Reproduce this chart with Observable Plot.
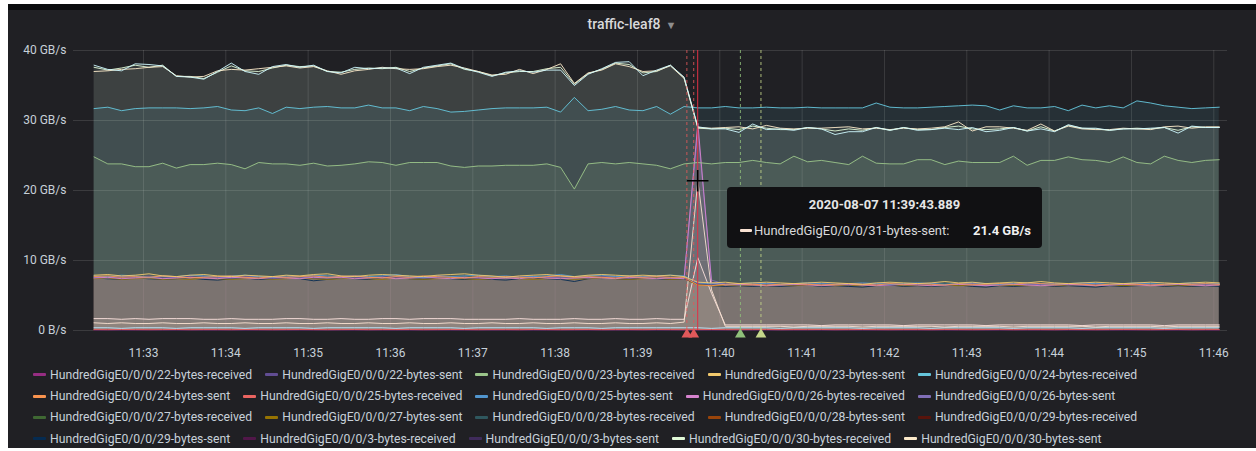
<!DOCTYPE html>
<html><head><meta charset="utf-8">
<script src="https://cdn.jsdelivr.net/npm/d3@7"></script>
<script src="https://cdn.jsdelivr.net/npm/@observablehq/plot@0.6"></script>
<style>
html,body{margin:0;padding:0;background:#fff;}
#wrap{position:relative;width:1256px;height:451px;overflow:hidden;font-family:Roboto,"Helvetica Neue",Arial,sans-serif;}
#panel{position:absolute;left:8px;top:4px;width:1248px;height:444px;background:#202024;border-top:6px solid #0b0c0e;box-sizing:border-box;}
#title{position:absolute;left:8px;width:1248px;top:16px;text-align:center;color:#d8d9da;font-size:14px;font-weight:500;}
#title .caret{color:#8e8e8e;font-size:11px;margin-left:5px;}
#chart{position:absolute;left:0;top:0;}
#legend{position:absolute;left:33px;top:364px;}
.row{display:flex;height:21.4px;align-items:center;white-space:nowrap;}
.item{display:flex;align-items:center;margin-right:13px;font-size:12.2px;color:#c7d0d9;}
.sw{width:13px;height:3px;border-radius:1px;margin-right:4px;}
#tip{position:absolute;left:727px;top:187px;width:315px;height:61px;background:#111113;border-radius:4px;color:#d8d9da;}
#tip .tt{position:absolute;left:0;width:315px;top:10px;text-align:center;font-size:13px;font-weight:700;color:#e6e6e6;}
#tip .tr{position:absolute;left:13px;right:11px;top:34px;height:18px;display:flex;align-items:center;font-size:13px;}
#tip .sw2{width:12px;height:3px;border-radius:1px;margin-right:2px;}
#tip .tv{margin-left:auto;font-weight:700;color:#f0f0f0;}
</style></head>
<body>
<div id="wrap">
  <div id="panel"></div>
  <div id="title"></div>
  <div id="chart"></div>
  <div id="legend"></div>
  <div id="tip"></div>
</div>
<script>
// ---------- axis data ----------
const xTickLabels = ["11:33","11:34","11:35","11:36","11:37","11:38","11:39","11:40","11:41","11:42","11:43","11:44","11:45","11:46"];
const yTicks = [0, 10, 20, 30, 40];
const yTickLabels = ["0 B/s", "10 GB/s", "20 GB/s", "30 GB/s", "40 GB/s"];
const sampleStart = "11:32:24";   // first sample, 10 s interval
const sampleCount = 83;
const viewStart = "11:32:09", viewEnd = "11:46:10";
const dateStr = "2020-08-07";

// ---------- series values (GB/s) ----------
const z22recv = [0.05,0.06,0.05,0.05,0.06,0.05,0.06,0.05,0.05,0.06,0.05,0.05,0.06,0.05,0.06,0.05,0.05,0.06,0.05,0.05,0.06,0.05,0.05,0.06,0.05,0.06,0.05,0.05,0.06,0.05,0.05,0.06,0.05,0.06,0.05,0.05,0.06,0.05,0.05,0.06,0.05,0.06,0.05,0.05,0.06,0.05,0.05,0.06,0.05,0.06,0.05,0.05,0.06,0.05,0.06,0.05,0.05,0.06,0.05,0.05,0.06,0.05,0.06,0.05,0.05,0.06,0.05,0.05,0.06,0.05,0.05,0.06,0.05,0.06,0.05,0.05,0.06,0.05,0.06,0.05,0.05,0.06,0.05];
const c22sent = [7.6,7.7,7.5,7.6,7.8,7.5,7.6,7.7,7.5,7.6,7.5,7.7,7.6,7.4,7.6,7.7,7.5,7.6,7.8,7.6,7.5,7.7,7.6,7.5,7.6,7.8,7.7,7.5,7.6,7.4,7.6,7.7,7.5,7.6,7.7,7.6,7.5,7.7,7.6,7.5,7.6,7.7,7.5,7.4,6.7,6.6,6.7,6.5,6.6,6.7,6.6,6.5,6.6,6.7,6.6,6.5,6.7,6.6,6.5,6.6,6.7,6.6,6.5,6.6,6.7,6.6,6.5,6.6,6.7,6.6,6.5,6.6,6.7,6.6,6.5,6.6,6.7,6.6,6.5,6.6,6.7,6.6,6.6];
const g23recv = [24.8,23.8,23.8,23.4,23.4,23.9,23.2,23.7,23.7,23.9,23.7,23.1,24.0,23.8,23.8,23.6,23.9,23.5,23.6,23.8,24.1,24.0,23.6,24.0,24.0,24.0,23.5,23.3,23.5,23.5,23.6,23.6,23.6,23.8,23.3,20.2,23.8,24.0,23.8,24.0,23.8,23.6,23.1,23.8,24.0,23.8,24.0,24.0,24.3,24.0,23.8,24.9,24.1,24.3,24.0,23.7,24.9,23.9,23.8,23.8,24.4,24.4,23.7,24.2,24.0,24.0,24.0,24.9,23.6,24.3,24.3,24.8,24.4,24.3,24.0,24.8,24.0,23.8,24.9,24.3,24.0,24.3,24.4];
const c23sent = [7.9,8.0,7.8,7.9,8.1,7.8,7.7,7.9,8.0,7.8,7.7,7.9,7.8,7.7,7.9,7.8,8.0,8.1,7.8,7.7,7.9,8.0,7.9,7.8,7.7,7.9,8.0,8.1,7.9,7.8,7.6,7.8,7.9,8.0,7.8,7.7,7.9,8.0,7.9,7.8,7.9,7.8,7.9,7.7,6.9,6.8,6.9,6.7,6.8,6.9,6.8,6.7,6.8,6.9,6.8,6.7,6.6,6.8,6.9,6.8,6.7,6.8,7.0,6.8,6.9,6.7,6.8,6.9,6.8,7.0,6.8,6.7,6.8,6.9,6.8,6.7,6.8,6.9,6.8,6.7,6.8,6.9,6.8];
const b24recv = [31.7,31.9,31.4,31.7,31.8,31.8,31.8,31.7,31.8,32.0,31.5,31.4,31.8,31.0,31.9,31.7,31.9,32.0,31.8,31.8,32.2,31.8,31.8,31.4,32.0,31.7,31.2,31.3,31.5,31.7,31.8,31.8,31.8,31.9,31.2,33.3,31.4,31.6,32.0,31.5,31.4,32.0,30.9,32.0,31.8,31.8,32.0,31.8,31.8,31.9,31.8,31.8,31.9,31.8,31.8,31.8,31.8,32.5,31.9,31.8,31.8,31.9,32.0,32.1,32.2,32.1,31.5,32.1,31.8,31.8,32.0,31.4,32.2,31.8,32.1,31.8,32.8,32.5,32.1,31.9,31.7,31.8,31.9];
const c24sent = [7.7,7.8,7.6,7.7,7.6,7.8,7.7,7.5,7.6,7.7,7.8,7.6,7.5,7.7,7.6,7.7,7.8,7.6,7.7,7.8,7.6,7.5,7.7,7.6,7.8,7.7,7.6,7.5,7.7,7.6,7.7,7.6,7.5,7.7,7.8,7.6,7.7,7.6,7.5,7.7,7.6,7.7,7.6,7.6,6.5,6.4,6.6,6.7,6.6,6.5,6.6,6.7,6.6,6.5,6.6,6.7,6.6,6.5,6.7,6.6,6.7,6.6,6.5,6.7,6.6,6.6,6.7,6.6,6.8,6.7,6.6,6.7,6.6,6.5,6.6,6.7,6.6,6.5,6.6,6.7,6.6,6.7,6.6];
const r25recv = [0.13,0.12,0.14,0.13,0.12,0.13,0.14,0.12,0.13,0.13,0.12,0.14,0.13,0.12,0.13,0.14,0.13,0.12,0.13,0.14,0.12,0.13,0.13,0.14,0.12,0.13,0.14,0.13,0.12,0.13,0.13,0.12,0.14,0.13,0.12,0.13,0.14,0.12,0.13,0.13,0.12,0.14,0.13,0.12,0.13,0.14,0.13,0.12,0.13,0.14,0.12,0.13,0.13,0.14,0.12,0.13,0.14,0.13,0.12,0.13,0.13,0.12,0.14,0.13,0.12,0.13,0.14,0.12,0.13,0.13,0.12,0.14,0.13,0.12,0.13,0.14,0.13,0.12,0.13,0.14,0.12,0.13,0.13];
const c25sent = [7.8,7.7,7.9,7.8,7.6,7.8,7.7,7.9,7.8,7.7,7.8,7.9,7.7,7.6,7.8,7.7,7.9,7.8,7.7,7.8,7.7,7.8,8.0,7.7,7.6,7.8,7.7,7.8,7.9,7.7,7.8,7.6,7.7,7.8,8.0,7.7,7.8,7.9,7.7,7.8,7.7,7.8,7.9,7.8,6.8,6.7,6.6,6.7,6.8,6.7,6.6,6.7,6.8,6.7,6.6,6.7,6.8,6.7,6.6,6.7,6.8,6.7,6.6,6.7,6.8,6.7,6.6,6.7,6.8,6.7,6.6,6.7,6.8,6.7,6.6,6.7,6.8,6.7,6.6,6.7,6.8,6.7,6.7];
const c26recv = [7.5,7.6,7.4,7.5,7.6,7.4,7.5,7.6,7.5,7.4,7.6,7.5,7.4,7.6,7.5,7.4,7.6,7.5,7.6,7.4,7.5,7.6,7.4,7.5,7.6,7.5,7.4,7.6,7.5,7.4,7.5,7.4,7.6,7.5,7.4,7.5,7.6,7.5,7.4,7.6,7.5,7.4,7.5,7.4,29.6,6.8,6.5,6.6,6.5,6.4,6.5,6.6,6.5,6.4,6.5,6.6,6.5,6.4,6.5,6.6,6.5,6.4,6.5,6.6,6.5,6.4,6.5,6.6,6.5,6.4,6.5,6.6,6.5,6.4,6.5,6.6,6.5,6.4,6.5,6.6,6.5,6.4,6.5];
const c26sent = [7.6,7.5,7.7,7.6,7.5,7.7,7.6,7.5,7.7,7.6,7.5,7.6,7.7,7.5,7.6,7.5,7.7,7.6,7.5,7.7,7.6,7.5,7.7,7.6,7.5,7.6,7.7,7.5,7.6,7.7,7.5,7.6,7.7,7.5,7.6,7.7,7.5,7.6,7.7,7.5,7.6,7.7,7.5,7.6,28.6,7.2,6.6,6.5,6.6,6.7,6.5,6.6,6.7,6.5,6.6,6.7,6.5,6.6,6.7,6.5,6.6,6.7,6.5,6.6,6.7,6.5,6.6,6.7,6.5,6.6,6.7,6.5,6.6,6.7,6.5,6.6,6.7,6.5,6.6,6.7,6.5,6.6,6.6];
const z27recv = [0.03,0.04,0.03,0.03,0.04,0.03,0.03,0.04,0.03,0.03,0.04,0.03,0.03,0.04,0.03,0.03,0.04,0.03,0.03,0.04,0.03,0.03,0.04,0.03,0.03,0.04,0.03,0.03,0.04,0.03,0.03,0.04,0.03,0.03,0.04,0.03,0.03,0.04,0.03,0.03,0.04,0.03,0.03,0.04,0.03,0.03,0.04,0.03,0.03,0.04,0.03,0.03,0.04,0.03,0.03,0.04,0.03,0.03,0.04,0.03,0.03,0.04,0.03,0.03,0.04,0.03,0.03,0.04,0.03,0.03,0.04,0.03,0.03,0.04,0.03,0.03,0.04,0.03,0.03,0.04,0.03,0.03,0.04];
const c27sent = [7.4,7.5,7.3,7.4,7.5,7.3,7.4,7.3,7.5,7.4,7.3,7.4,7.5,7.3,7.4,7.5,7.4,7.3,7.4,7.5,7.4,7.3,7.5,7.4,7.3,7.4,7.5,7.4,7.3,7.4,7.5,7.4,7.3,7.4,7.5,7.3,7.4,7.5,7.4,7.3,7.4,7.5,7.3,7.4,6.5,6.4,6.5,6.4,6.5,6.4,6.5,6.4,6.5,6.6,6.4,6.5,6.4,6.5,6.6,6.4,6.5,6.4,6.5,6.4,6.5,6.6,6.4,6.5,6.4,6.5,6.4,6.5,6.6,6.4,6.5,6.4,6.5,6.6,6.4,6.5,6.4,6.5,6.5];
const c28recv = [7.5,7.4,7.6,7.5,7.4,7.6,7.5,7.4,7.5,7.6,7.4,7.5,7.6,7.4,7.5,7.6,7.5,7.4,7.6,7.5,7.4,7.6,7.5,7.4,7.5,7.6,7.4,7.5,7.6,7.5,7.4,7.5,7.6,7.5,7.4,7.6,7.5,7.4,7.5,7.6,7.5,7.4,7.6,7.5,6.6,6.5,6.6,6.7,6.5,6.6,6.7,6.5,6.6,6.7,6.5,6.6,6.7,6.5,6.6,6.7,6.5,6.6,6.7,6.5,6.6,6.7,6.5,6.6,6.7,6.5,6.6,6.7,6.5,6.6,6.7,6.5,6.6,6.7,6.5,6.6,6.7,6.5,6.6];
const z28sent = [0.02,0.02,0.03,0.02,0.02,0.02,0.03,0.02,0.02,0.02,0.03,0.02,0.02,0.02,0.03,0.02,0.02,0.02,0.03,0.02,0.02,0.02,0.03,0.02,0.02,0.02,0.03,0.02,0.02,0.02,0.03,0.02,0.02,0.02,0.03,0.02,0.02,0.02,0.03,0.02,0.02,0.02,0.03,0.02,0.02,0.02,0.03,0.02,0.02,0.02,0.03,0.02,0.02,0.02,0.03,0.02,0.02,0.02,0.03,0.02,0.02,0.02,0.03,0.02,0.02,0.02,0.03,0.02,0.02,0.02,0.03,0.02,0.02,0.02,0.03,0.02,0.02,0.02,0.03,0.02,0.02,0.02,0.03];
const z29recv = [0.02,0.03,0.02,0.02,0.03,0.02,0.02,0.03,0.02,0.02,0.03,0.02,0.02,0.03,0.02,0.02,0.03,0.02,0.02,0.03,0.02,0.02,0.03,0.02,0.02,0.03,0.02,0.02,0.03,0.02,0.02,0.03,0.02,0.02,0.03,0.02,0.02,0.03,0.02,0.02,0.03,0.02,0.02,0.03,0.02,0.02,0.03,0.02,0.02,0.03,0.02,0.02,0.03,0.02,0.02,0.03,0.02,0.02,0.03,0.02,0.02,0.03,0.02,0.02,0.03,0.02,0.02,0.03,0.02,0.02,0.03,0.02,0.02,0.03,0.02,0.02,0.03,0.02,0.02,0.03,0.02,0.02,0.03];
const c29sent = [7.5,7.4,7.3,7.5,7.4,7.3,7.4,7.5,7.3,7.2,7.4,7.5,7.3,7.4,7.5,7.4,7.1,7.3,7.5,7.4,7.3,7.5,7.6,7.4,7.3,7.5,7.4,7.3,7.4,7.3,7.2,7.4,7.5,7.4,7.3,7.0,7.4,7.5,7.4,7.3,7.5,7.4,7.3,7.4,6.6,6.4,6.3,6.4,6.3,6.4,6.3,6.4,6.5,6.3,6.4,6.3,6.2,6.4,6.5,6.3,6.4,6.3,6.4,6.5,6.3,6.2,6.4,6.3,6.4,6.5,6.3,6.4,6.3,6.2,6.4,6.3,6.4,6.5,6.3,6.4,6.3,6.4,6.3];
const z3recv = [0.04,0.04,0.05,0.04,0.04,0.05,0.04,0.04,0.05,0.04,0.04,0.05,0.04,0.04,0.05,0.04,0.04,0.05,0.04,0.04,0.05,0.04,0.04,0.05,0.04,0.04,0.05,0.04,0.04,0.05,0.04,0.04,0.05,0.04,0.04,0.05,0.04,0.04,0.05,0.04,0.04,0.05,0.04,0.04,0.05,0.04,0.04,0.05,0.04,0.04,0.05,0.04,0.04,0.05,0.04,0.04,0.05,0.04,0.04,0.05,0.04,0.04,0.05,0.04,0.04,0.05,0.04,0.04,0.05,0.04,0.04,0.05,0.04,0.04,0.05,0.04,0.04,0.05,0.04,0.04,0.05,0.04,0.04];
const z3sent = [0.03,0.03,0.02,0.03,0.03,0.02,0.03,0.03,0.02,0.03,0.03,0.02,0.03,0.03,0.02,0.03,0.03,0.02,0.03,0.03,0.02,0.03,0.03,0.02,0.03,0.03,0.02,0.03,0.03,0.02,0.03,0.03,0.02,0.03,0.03,0.02,0.03,0.03,0.02,0.03,0.03,0.02,0.03,0.03,0.02,0.03,0.03,0.02,0.03,0.03,0.02,0.03,0.03,0.02,0.03,0.03,0.02,0.03,0.03,0.02,0.03,0.03,0.02,0.03,0.03,0.02,0.03,0.03,0.02,0.03,0.03,0.02,0.03,0.03,0.02,0.03,0.03,0.02,0.03,0.03,0.02,0.03,0.03];
const t30recv = [37.6,37.2,37.5,37.9,37.6,37.9,36.3,36.3,36.0,36.9,37.8,37.1,37.0,37.5,37.9,37.7,37.8,37.0,36.9,37.3,37.5,37.4,37.6,37.0,37.5,37.8,38.1,37.3,37.0,36.4,36.8,37.0,37.0,37.4,37.6,35.2,36.7,37.3,38.2,38.0,36.8,37.0,37.9,36.1,28.9,28.8,28.9,28.7,29.2,28.9,28.7,28.7,29.0,28.8,28.5,28.8,28.6,29.0,28.6,29.0,28.7,28.7,29.0,29.2,28.8,28.7,28.8,29.0,28.5,29.1,28.5,29.3,28.9,28.8,28.6,28.8,28.9,28.8,29.0,28.6,29.1,29.0,29.0];
const t30sent = [37.0,37.1,37.3,37.4,37.6,37.7,36.4,36.2,36.3,37.1,37.3,37.2,37.4,37.6,37.8,37.5,37.7,37.1,36.6,37.1,37.3,37.6,37.4,37.3,37.4,37.7,37.9,37.5,37.0,36.5,36.6,37.3,36.7,37.3,38.1,35.3,36.8,37.2,38.1,37.7,37.0,37.1,37.8,36.0,29.0,28.9,29.0,29.1,28.8,29.3,28.9,28.8,28.9,28.9,29.0,29.1,28.8,28.9,28.7,28.9,28.8,28.9,29.1,29.8,28.5,29.1,29.1,28.9,28.6,29.5,28.5,29.2,28.8,28.7,28.7,28.9,28.8,28.7,29.1,29.2,28.9,29.1,29.1];
const t31recv = [37.9,37.3,37.1,38.1,38.0,37.8,36.3,36.2,35.9,37.0,38.2,37.0,36.6,37.7,38.0,37.6,37.9,37.0,36.8,37.6,37.4,37.5,37.5,36.7,37.6,37.9,38.2,37.4,36.9,36.3,36.9,37.1,36.9,37.2,37.2,35.0,36.6,37.4,38.3,38.4,36.4,37.2,37.9,36.2,29.1,28.8,28.8,28.3,29.5,28.7,28.8,28.6,29.0,28.8,28.0,28.4,28.4,29.0,28.6,29.0,28.6,28.7,28.9,28.7,29.0,28.4,28.6,29.0,28.5,28.8,28.4,29.4,28.9,28.9,28.6,28.8,28.8,28.9,29.0,28.2,29.2,29.0,29.0];
const l31sent = [1.1,1.0,1.1,1.0,1.0,1.1,1.0,1.0,1.1,1.0,1.0,1.1,1.0,1.0,1.1,1.0,1.0,1.1,1.0,1.0,1.1,1.0,1.0,1.1,1.0,1.0,1.1,1.0,1.0,1.1,1.0,1.0,1.1,1.0,1.0,1.1,1.0,1.0,1.1,1.0,1.0,1.1,1.0,1.2,21.4,5.8,0.6,0.6,0.6,0.6,0.6,0.5,0.6,0.6,0.6,0.6,0.5,0.6,0.6,0.6,0.6,0.6,0.5,0.6,0.6,0.6,0.6,0.5,0.6,0.6,0.6,0.6,0.6,0.5,0.6,0.6,0.6,0.6,0.5,0.6,0.6,0.6,0.6];
const lUnlistedA = [1.7,1.7,1.6,1.7,1.6,1.7,1.7,1.7,1.6,1.6,1.7,1.6,1.6,1.6,1.7,1.7,1.6,1.6,1.7,1.6,1.6,1.7,1.7,1.6,1.7,1.7,1.7,1.6,1.6,1.6,1.6,1.7,1.6,1.6,1.6,1.7,1.6,1.6,1.7,1.6,1.6,1.7,1.6,1.6,10.4,5.3,0.8,0.8,0.8,0.8,0.8,0.8,0.8,0.7,0.8,0.8,0.8,0.8,0.8,0.7,0.8,0.8,0.8,0.8,0.8,0.7,0.8,0.8,0.8,0.8,0.8,0.8,0.7,0.8,0.8,0.8,0.8,0.8,0.7,0.8,0.8,0.8,0.8];
const lUnlistedB = [0.4,0.4,0.3,0.4,0.4,0.4,0.3,0.4,0.4,0.4,0.4,0.3,0.4,0.4,0.4,0.4,0.3,0.4,0.4,0.4,0.4,0.4,0.3,0.4,0.4,0.4,0.4,0.3,0.4,0.4,0.4,0.4,0.4,0.3,0.4,0.4,0.4,0.3,0.4,0.4,0.4,0.4,0.4,0.4,0.4,0.3,0.4,0.4,0.4,0.4,0.3,0.4,0.4,0.4,0.4,0.4,0.3,0.4,0.4,0.4,0.4,0.3,0.4,0.4,0.4,0.4,0.4,0.3,0.4,0.4,0.4,0.4,0.3,0.4,0.4,0.4,0.4,0.4,0.3,0.4,0.4,0.4,0.4];

// ---------- names & styling ----------
const legendNames = [
  "HundredGigE0/0/0/22-bytes-received","HundredGigE0/0/0/22-bytes-sent","HundredGigE0/0/0/23-bytes-received","HundredGigE0/0/0/23-bytes-sent","HundredGigE0/0/0/24-bytes-received",
  "HundredGigE0/0/0/24-bytes-sent","HundredGigE0/0/0/25-bytes-received","HundredGigE0/0/0/25-bytes-sent","HundredGigE0/0/0/26-bytes-received","HundredGigE0/0/0/26-bytes-sent",
  "HundredGigE0/0/0/27-bytes-received","HundredGigE0/0/0/27-bytes-sent","HundredGigE0/0/0/28-bytes-received","HundredGigE0/0/0/28-bytes-sent","HundredGigE0/0/0/29-bytes-received",
  "HundredGigE0/0/0/29-bytes-sent","HundredGigE0/0/0/3-bytes-received","HundredGigE0/0/0/3-bytes-sent","HundredGigE0/0/0/30-bytes-received","HundredGigE0/0/0/30-bytes-sent"];
const legendColors = ["#962D82","#614D93","#9AC48A","#F2C96D","#65C5DB","#F9934E","#EA6460","#5195CE","#D683CE","#806EB7","#3F6833","#967302","#2F575E","#99440A","#58140C","#052B51","#511749","#3F2B5B","#E0F9D7","#FCEACA"];
const legendPerRow = 5;
const extraNames = ["HundredGigE0/0/0/31-bytes-received","HundredGigE0/0/0/31-bytes-sent","unlisted-a","unlisted-b"];
const extraColors = ["#CFFAFF","#F9E2D2","#FCE2DE","#BADFF4"];
const seriesValues = [z22recv,c22sent,g23recv,c23sent,b24recv,c24sent,r25recv,c25sent,c26recv,c26sent,z27recv,c27sent,c28recv,z28sent,z29recv,c29sent,z3recv,z3sent,t30recv,t30sent,t31recv,l31sent,lUnlistedA,lUnlistedB];
const fillOpacities = [0.1,0.03,0.1,0.06,0.1,0.17,0.1,0.03,0.17,0.03,0.1,0.03,0.03,0.1,0.1,0.03,0.1,0.1,0.055,0.055,0.055,0.08,0.08,0.08];
// order in which the lines are stroked (last on top)
const lineOrder = [0,10,13,14,16,17,6,23,22,21,15,12,11,1,9,8,7,5,3,2,4,18,19,20];

// annotations & hover
const annotationTimes = ["11:39:36","11:39:41","11:40:15","11:40:30"];
const annotationColors = ["#e0585a","#e0585a","#8fc07a","#c4d68a"];
const hoverTime = "11:39:43.889";
const hoverSeries = 21;   // index in series list
const titleText = "traffic-leaf8";

// ---------- build ----------
const T = s => new Date(`${dateStr}T${s}Z`);
const t0 = T(sampleStart).getTime();
const times = d3.range(sampleCount).map(i => new Date(t0 + i * 10000));
const names = [...legendNames, ...extraNames];
const colors = [...legendColors, ...extraColors];
const series = names.map((name, k) => ({
  name, color: colors[k], fo: fillOpacities[k],
  rows: times.map((t, i) => ({t, v: seriesValues[k][i]}))
}));
const xTicks = xTickLabels.map(s => T(s + ":00"));
const annots = annotationTimes.map((s, i) => ({t: T(s), c: annotationColors[i]}));
const hover = {t: T(hoverTime), v: seriesValues[hoverSeries][times.findIndex(t => Math.abs(t - T(hoverTime)) < 6000)]};

const marks = [
  Plot.ruleY(yTicks, {stroke: "#ffffff", strokeOpacity: 0.12}),
  Plot.ruleX(xTicks, {stroke: "#ffffff", strokeOpacity: 0.12}),
  ...series.map(s => Plot.areaY(s.rows, {x: "t", y1: 0, y2: "v", fill: s.color, fillOpacity: s.fo})),
  ...lineOrder.map(k => series[k]).map(s => Plot.lineY(s.rows, {x: "t", y: "v", stroke: s.color, strokeWidth: 1, strokeOpacity: 0.9})),
  ...annots.map(a => Plot.ruleX([a.t], {stroke: a.c, strokeDasharray: "3,3", strokeWidth: 1, strokeOpacity: 0.85})),
  ...annots.map(a => Plot.dot([a.t], {x: d => d, y: 0, symbol: "triangle", r: 4, fill: a.c, stroke: null, dy: 4})),
  Plot.ruleX([hover.t], {stroke: "#e02f44", strokeWidth: 1}),
  Plot.dot([hover], {x: "t", y: "v", symbol: "plus", r: 7, stroke: "#000", strokeWidth: 1.6})
];

const chart = Plot.plot({
  width: 1256, height: 365,
  marginLeft: 73, marginRight: 29, marginTop: 50, marginBottom: 35,
  style: {background: "transparent", color: "#c7d0d9", fontFamily: "Roboto, sans-serif", fontSize: "12px", overflow: "visible"},
  x: {type: "utc", domain: [T(viewStart), T(viewEnd)], ticks: xTicks, tickFormat: d3.utcFormat("%H:%M"), tickSize: 0, tickPadding: 18, label: null},
  y: {domain: [0, 40], ticks: yTicks, tickFormat: d => yTickLabels[yTicks.indexOf(d)], tickSize: 0, tickPadding: 7, label: null},
  marks
});
document.getElementById("chart").appendChild(chart);

// title
document.getElementById("title").innerHTML = `${titleText}<span class="caret">&#9660;</span>`;

// legend
const leg = document.getElementById("legend");
for (let r = 0; r < legendNames.length; r += legendPerRow) {
  const row = document.createElement("div"); row.className = "row";
  legendNames.slice(r, r + legendPerRow).forEach((n, j) => {
    const it = document.createElement("div"); it.className = "item";
    it.innerHTML = `<span class="sw" style="background:${legendColors[r + j]}"></span>${n}`;
    row.appendChild(it);
  });
  leg.appendChild(row);
}

// tooltip
const tip = document.getElementById("tip");
tip.innerHTML = `<div class="tt">${dateStr} ${hoverTime}</div><div class="tr"><span class="sw2" style="background:${colors[hoverSeries]}"></span><span>${names[hoverSeries]}:</span><span class="tv">${hover.v.toFixed(1)} GB/s</span></div>`;
</script>
</body></html>
